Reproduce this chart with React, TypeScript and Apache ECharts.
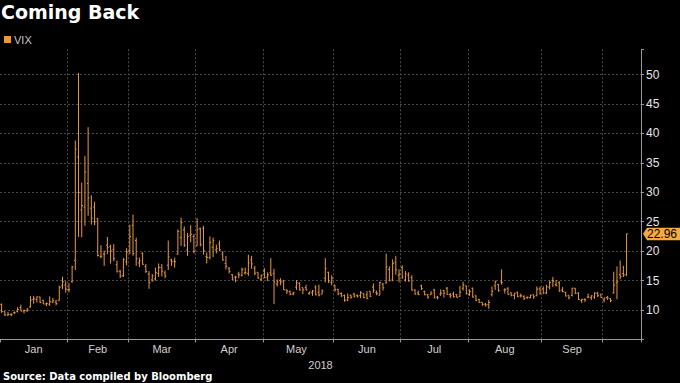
import React, { useEffect, useRef } from 'react';
import * as echarts from 'echarts';

// ---- data ----
const monthNames = ['Jan', 'Feb', 'Mar', 'Apr', 'May', 'Jun', 'Jul', 'Aug', 'Sep', 'Oct'];
const janDays = [2, 3, 4, 5, 8, 9, 10, 11, 12, 16, 17, 18, 19, 22, 23, 24, 25, 26, 29, 30, 31];
const febDays = [1, 2, 5, 6, 7, 8, 9, 12, 13, 14, 15, 16, 20, 21, 22, 23, 26, 27, 28];
const marDays = [1, 2, 5, 6, 7, 8, 9, 12, 13, 14, 15, 16, 19, 20, 21, 22, 23, 26, 27, 28, 29];
const aprDays = [2, 3, 4, 5, 6, 9, 10, 11, 12, 13, 16, 17, 18, 19, 20, 23, 24, 25, 26, 27, 30];
const mayDays = [1, 2, 3, 4, 7, 8, 9, 10, 11, 14, 15, 16, 17, 18, 21, 22, 23, 24, 25, 29, 30, 31];
const junDays = [1, 4, 5, 6, 7, 8, 11, 12, 13, 14, 15, 18, 19, 20, 21, 22, 25, 26, 27, 28, 29];
const julDays = [2, 3, 5, 6, 9, 10, 11, 12, 13, 16, 17, 18, 19, 20, 23, 24, 25, 26, 27, 30, 31];
const augDays = [1, 2, 3, 6, 7, 8, 9, 10, 13, 14, 15, 16, 17, 20, 21, 22, 23, 24, 27, 28, 29, 30, 31];
const sepDays = [4, 5, 6, 7, 10, 11, 12, 13, 14, 17, 18, 19, 20, 21, 24, 25, 26, 27, 28];
const octDays = [1, 2, 3, 4, 5, 8, 9, 10];
const paddingDates = ['2018-10-11', '2018-10-12', '2018-10-15', '2018-10-16'];

const open = [
  // Jan
  10.95, 9.70, 9.15, 9.26, 9.53, 9.73, 10.42, 9.84, 9.86, 10.54, 11.80, 11.77, 12.20, 11.63, 11.03, 10.98, 11.30, 11.35, 11.64, 14.10, 14.22,
  // Feb
  13.49, 14.83, 18.44, 36.00, 27.00, 27.50, 31.50, 27.30, 27.50, 25.50, 19.10, 19.50, 21.00, 20.80, 20.30, 17.70, 16.60, 15.80, 18.20,
  // Mar
  20.00, 24.40, 21.80, 18.00, 19.60, 17.40, 16.10, 15.10, 15.30, 16.20, 17.20, 16.30, 17.60, 18.50, 18.30, 19.50, 22.30, 23.60, 20.20, 22.70, 22.50,
  // Apr
  20.90, 23.80, 23.90, 19.10, 18.90, 20.60, 20.20, 21.20, 19.50, 17.90, 17.00, 16.00, 15.60, 16.10, 15.90, 16.30, 16.20, 18.50, 17.10, 16.40, 15.20,
  // May
  16.60, 15.60, 16.30, 16.20, 14.40, 15.00, 14.90, 13.40, 13.10, 12.70, 13.90, 14.50, 13.80, 13.80, 12.80, 12.90, 13.90, 13.00, 12.70, 15.40, 16.40, 14.70,
  // Jun
  14.20, 13.50, 12.80, 12.50, 11.70, 12.50, 12.70, 12.50, 12.50, 12.80, 12.60, 13.20, 13.90, 13.00, 12.50, 14.40, 14.60, 16.90, 15.10, 18.10, 15.90,
  // Jul
  17.20, 15.10, 15.90, 15.50, 13.40, 12.90, 14.10, 13.10, 12.60, 12.60, 13.40, 12.20, 12.70, 13.30, 13.70, 12.60, 12.70, 12.60, 12.30, 13.70, 14.10,
  // Aug
  12.60, 13.70, 12.40, 11.80, 11.30, 11.00, 10.90, 12.60, 14.10, 14.30, 14.80, 13.40, 13.60, 12.90, 12.50, 13.00, 12.40, 12.30, 12.10, 12.10, 12.60, 12.50, 13.60,
  // Sep
  13.60, 12.90, 13.90, 15.00, 14.30, 14.60, 13.40, 13.00, 12.50, 12.50, 13.70, 12.90, 11.60, 11.80, 12.20, 12.10, 12.20, 12.80, 12.60,
  // Oct
  11.70, 12.10, 11.90, 12.90, 14.60, 16.00, 16.20, 16.00,
];
const high = [
  11.10, 9.80, 9.68, 9.47, 9.76, 10.47, 10.91, 10.08, 10.32, 12.35, 12.40, 12.29, 12.26, 11.71, 11.29, 12.31, 12.06, 11.75, 14.13, 15.66, 14.90,
  14.58, 17.51, 38.80, 50.30, 31.64, 36.17, 41.06, 29.50, 28.40, 25.60, 21.00, 20.10, 22.40, 21.10, 21.20, 18.40, 16.80, 18.80, 20.50,
  24.50, 26.20, 22.30, 18.90, 19.80, 17.80, 16.60, 16.10, 17.20, 17.90, 17.80, 16.70, 21.80, 18.70, 18.90, 23.70, 25.70, 24.20, 23.10, 24.40, 22.90,
  25.60, 24.00, 24.30, 19.80, 22.50, 22.30, 21.10, 21.80, 20.00, 19.20, 17.30, 16.10, 15.80, 16.50, 17.20, 17.20, 19.40, 19.20, 17.50, 16.40, 16.00,
  17.10, 16.40, 18.80, 17.00, 15.20, 15.40, 15.10, 13.50, 13.30, 13.10, 15.10, 14.70, 13.80, 14.30, 13.10, 13.40, 14.20, 14.30, 13.50, 18.80, 16.50, 15.90,
  14.30, 13.60, 13.00, 12.60, 12.80, 12.60, 12.90, 12.60, 13.20, 12.80, 13.20, 13.20, 14.50, 13.30, 14.80, 14.60, 19.60, 17.40, 18.60, 19.20, 16.90,
  17.60, 16.60, 16.40, 15.90, 13.50, 13.30, 14.30, 13.30, 12.70, 13.20, 13.60, 12.40, 13.50, 13.40, 13.90, 12.90, 13.10, 12.70, 14.10, 14.80, 14.10,
  13.50, 13.80, 12.50, 11.90, 11.30, 11.20, 11.70, 14.00, 15.00, 14.40, 16.90, 13.70, 13.90, 13.00, 12.90, 13.10, 12.80, 12.50, 12.30, 12.60, 12.60, 14.00, 14.00,
  14.00, 14.30, 15.00, 15.60, 15.10, 14.90, 13.90, 13.10, 12.50, 13.80, 13.70, 13.00, 11.90, 12.00, 12.80, 12.50, 13.00, 13.10, 12.80,
  12.10, 12.40, 12.00, 16.50, 17.40, 18.40, 17.50, 22.96,
];
const low = [
  9.50, 9.00, 9.00, 8.92, 9.35, 9.58, 9.81, 9.41, 9.70, 10.39, 11.07, 11.28, 11.15, 10.99, 10.65, 10.69, 11.18, 10.80, 11.60, 13.57, 12.94,
  12.98, 14.61, 16.80, 22.42, 22.37, 24.30, 26.00, 24.50, 24.40, 19.10, 18.80, 17.50, 19.50, 17.90, 18.30, 16.40, 15.40, 15.60, 17.60,
  19.50, 19.20, 17.50, 17.30, 17.70, 16.30, 13.60, 14.80, 15.00, 15.60, 15.70, 15.40, 16.80, 17.50, 17.20, 19.40, 20.90, 20.70, 19.20, 21.50, 19.60,
  20.90, 20.80, 19.40, 17.90, 18.60, 19.00, 19.60, 20.00, 18.40, 16.90, 16.20, 15.10, 14.70, 15.40, 15.70, 16.00, 15.80, 17.00, 15.90, 15.30, 14.90,
  15.40, 14.90, 15.80, 11.00, 14.00, 14.20, 13.40, 12.70, 12.50, 12.50, 13.40, 13.30, 12.70, 13.30, 12.60, 12.40, 12.50, 12.30, 12.70, 14.70, 14.60, 14.20,
  13.10, 12.50, 12.20, 11.40, 11.50, 11.90, 12.10, 12.10, 12.00, 12.00, 11.80, 12.20, 12.90, 12.50, 12.50, 13.30, 14.50, 14.90, 14.90, 16.00, 14.70,
  15.30, 14.80, 14.80, 13.30, 12.60, 12.50, 13.40, 12.50, 11.90, 12.60, 12.00, 11.80, 12.40, 12.10, 12.60, 12.00, 12.10, 12.10, 12.20, 13.30, 12.60,
  12.40, 12.10, 11.50, 11.20, 10.70, 10.60, 10.20, 12.30, 13.40, 13.10, 14.30, 12.80, 12.60, 12.30, 11.80, 12.20, 12.10, 11.70, 11.90, 12.00, 11.90, 12.30, 12.60,
  12.70, 12.70, 13.50, 13.90, 14.00, 13.10, 13.00, 12.30, 11.80, 12.30, 12.70, 11.70, 11.20, 11.40, 12.00, 11.70, 11.90, 12.20, 12.10,
  11.30, 11.70, 11.30, 12.80, 11.80, 15.20, 15.60, 15.80,
];
const close = [
  9.77, 9.15, 9.22, 9.22, 9.52, 10.08, 9.82, 9.88, 10.16, 11.66, 11.91, 12.22, 11.27, 11.03, 11.10, 11.47, 11.58, 11.08, 13.84, 14.79, 13.54,
  13.47, 17.31, 37.32, 29.98, 27.73, 33.46, 29.06, 25.61, 24.97, 19.26, 19.13, 19.46, 20.60, 20.02, 18.72, 16.49, 15.80, 18.59, 19.85,
  22.47, 19.59, 18.73, 18.36, 17.76, 16.54, 14.64, 15.78, 16.35, 17.23, 16.59, 15.80, 19.02, 18.20, 18.20, 23.34, 24.87, 21.03, 22.50, 22.87, 19.97,
  23.62, 21.10, 20.06, 18.94, 21.49, 21.77, 20.47, 20.24, 18.49, 17.41, 16.56, 15.25, 15.60, 15.96, 16.88, 16.34, 18.02, 17.84, 16.24, 15.41, 15.93,
  15.49, 15.97, 15.90, 14.77, 14.75, 14.71, 13.42, 13.23, 12.65, 12.93, 14.63, 13.42, 13.43, 13.42, 13.08, 13.22, 12.58, 12.53, 13.22, 17.02, 14.94, 15.43,
  13.46, 12.74, 12.40, 11.64, 12.13, 12.18, 12.35, 12.34, 12.94, 12.12, 11.98, 12.31, 13.35, 12.79, 14.64, 13.77, 17.33, 14.96, 17.91, 16.85, 16.09,
  15.60, 16.14, 14.97, 13.37, 12.69, 12.64, 13.63, 12.58, 12.18, 12.83, 12.06, 12.10, 12.87, 12.86, 12.62, 12.41, 12.29, 12.14, 13.03, 14.26, 12.83,
  13.15, 12.19, 11.64, 11.27, 10.93, 10.85, 11.27, 13.16, 14.78, 13.31, 14.64, 13.45, 12.64, 12.49, 12.86, 12.25, 12.41, 11.99, 12.16, 12.50, 12.25, 13.53, 12.86,
  12.88, 13.91, 14.65, 14.88, 14.16, 13.22, 13.14, 12.37, 12.07, 13.68, 12.79, 11.75, 11.80, 11.68, 12.20, 12.42, 12.89, 12.41, 12.12,
  12.00, 12.05, 11.61, 14.22, 14.82, 15.69, 15.95, 22.96,
];
const lastValue = 22.96;
const yTicks = [10, 15, 20, 25, 30, 35, 40, 45, 50];

// ---- derived ----
const tradingDays = [janDays, febDays, marDays, aprDays, mayDays, junDays, julDays, augDays, sepDays, octDays];
const pad2 = (n: number) => (n < 10 ? '0' + n : String(n));
const dates: string[] = [];
const monthStart = new Set<number>();
const labelAt = new Map<number, string>();
tradingDays.forEach((days, m) => {
  monthStart.add(dates.length);
  if (m < 9) labelAt.set(dates.length + Math.floor((days.length - 1) / 2), monthNames[m]);
  days.forEach((d) => dates.push(`2018-${pad2(m + 1)}-${pad2(d)}`));
});
const categories = dates.concat(paddingDates);
const ohlc = dates.map((_, i) => [i, open[i], close[i], low[i], high[i]]);

const ORANGE = '#e8993c';
const GRID = '#4a4a4a';
const AXIS = '#9a9a9a';

export default function App() {
  const ref = useRef<HTMLDivElement>(null);
  useEffect(() => {
    const chart = echarts.init(ref.current!, undefined, { renderer: 'svg' });
    const splitColors = [
      'rgba(0,0,0,0)',
      ...yTicks.map(() => GRID),
      'rgba(0,0,0,0)',
    ];
    chart.setOption({
      animation: false,
      backgroundColor: '#000',
      title: {
        text: 'Coming Back',
        left: 1,
        top: 2,
        padding: 0,
        textStyle: { color: '#fff', fontFamily: 'DejaVu Sans', fontWeight: 'bold', fontSize: 19 },
      },
      legend: {
        data: ['VIX'],
        left: 4,
        top: 34,
        padding: 0,
        icon: 'rect',
        itemWidth: 7,
        itemHeight: 7,
        itemGap: 10,
        textStyle: { color: '#c8c8c8', fontSize: 11, fontFamily: 'Liberation Sans', padding: [0, 0, 0, -2] },
      },
      grid: { left: 0, right: 39, top: 49.3, bottom: 43.6 },
      xAxis: {
        type: 'category',
        data: categories,
        boundaryGap: true,
        name: '2018',
        nameLocation: 'middle',
        nameGap: 17,
        nameTextStyle: { color: '#d0d0d0', fontSize: 11, fontFamily: 'Liberation Sans' },
        axisLine: { show: true, lineStyle: { color: AXIS } },
        axisTick: { show: true, length: 3, interval: (i: number) => monthStart.has(i), lineStyle: { color: AXIS } },
        axisLabel: {
          interval: (i: number) => labelAt.has(i),
          formatter: (_v: string, i: number) => labelAt.get(i) || '',
          color: '#d0d0d0',
          fontSize: 11,
          fontFamily: 'Liberation Sans',
          margin: 4,
        },
        splitLine: {
          show: true,
          interval: (i: number) => monthStart.has(i) && i > 0,
          lineStyle: { color: GRID, type: [2, 2] },
        },
      },
      yAxis: {
        type: 'value',
        position: 'right',
        min: 5,
        max: 54.3,
        interval: 5,
        axisLine: { show: true, lineStyle: { color: AXIS } },
        axisTick: { show: true, length: 3, lineStyle: { color: AXIS } },
        axisLabel: {
          color: '#e6e6e6',
          fontSize: 12,
          fontFamily: 'Liberation Sans',
          margin: 5,
          formatter: (v: number) => (yTicks.indexOf(Math.round(v * 100) / 100) >= 0 ? String(v) : ''),
        },
        splitLine: { show: true, lineStyle: { color: splitColors, type: [2, 2] } },
      },
      graphic: [
        {
          type: 'text',
          left: 3,
          top: 371,
          style: { text: 'Source: Data compiled by Bloomberg', fill: '#fff', font: 'bold 10px "DejaVu Sans"' },
        },
      ],
      series: [
        {
          type: 'custom',
          name: 'VIX',
          data: ohlc,
          encode: { x: 0, y: [1, 2, 3, 4] },
          itemStyle: { color: ORANGE },
          renderItem: (_params: any, api: any) => {
            const i = api.value(0);
            const pO = api.coord([i, api.value(1)]);
            const pC = api.coord([i, api.value(2)]);
            const pL = api.coord([i, api.value(3)]);
            const pH = api.coord([i, api.value(4)]);
            const w = api.size([1, 0])[0] * 0.4;
            const st = { stroke: ORANGE, lineWidth: 1 };
            return {
              type: 'group',
              children: [
                { type: 'line', shape: { x1: pH[0], y1: pH[1], x2: pL[0], y2: pL[1] }, style: st },
                { type: 'line', shape: { x1: pO[0] - w, y1: pO[1], x2: pO[0], y2: pO[1] }, style: st },
                { type: 'line', shape: { x1: pC[0], y1: pC[1], x2: pC[0] + w, y2: pC[1] }, style: st },
              ],
            };
          },
        },
        {
          type: 'custom',
          data: [[dates.length - 1, lastValue]],
          encode: { x: 0, y: 1 },
          clip: false,
          silent: true,
          z: 10,
          renderItem: (params: any, api: any) => {
            const y = api.coord([api.value(0), api.value(1)])[1];
            const cs = params.coordSys;
            const x0 = cs.x + cs.width;
            return {
              type: 'group',
              children: [
                {
                  type: 'polygon',
                  shape: { points: [[x0 + 2, y], [x0 + 6, y - 6], [x0 + 40, y - 6], [x0 + 40, y + 6.5], [x0 + 6, y + 6.5]] },
                  style: { fill: '#f7a840' },
                },
                {
                  type: 'text',
                  x: x0 + 6,
                  y: y + 0.5,
                  style: { text: lastValue.toFixed(2), fill: '#000', font: '12px "Liberation Sans"', align: 'left', verticalAlign: 'middle' },
                },
              ],
            };
          },
        },
      ],
    });
    return () => chart.dispose();
  }, []);
  return <div ref={ref} style={{ position: 'fixed', left: 0, top: 0, width: 680, height: 383 }} />;
}
